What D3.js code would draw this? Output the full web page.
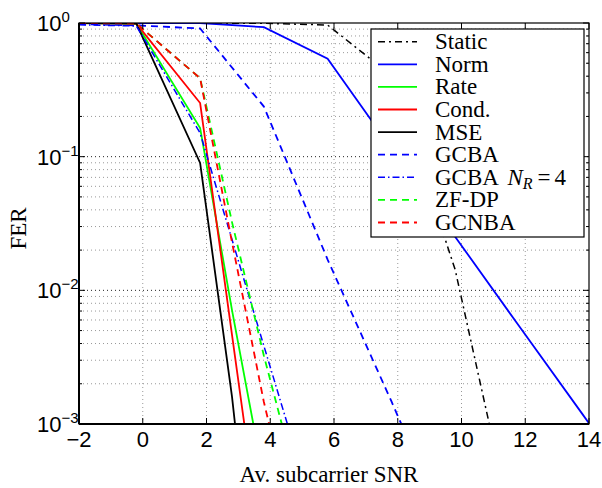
<!DOCTYPE html>
<html>
<head>
<meta charset="utf-8">
<script src="https://d3js.org/d3.v7.min.js"></script>
<style>
  body { margin: 0; background: #fff; }
  svg { display: block; }
</style>
</head>
<body>
<svg width="602" height="488"></svg>
<script>
// SNR points (dB) used by the simulations
const snrCoarse = [-2, -0.2, 1.8, 3.8, 5.8, 7.8, 9.8, 11.8, 13.8, 15.8];
const snrFine = [-2, -0.2, 1.8, 2.8, 3.8, 4.8];

// FER values
const ferStatic = [1, 1, 1, 0.995, 0.966, 0.405, 0.0143, 1.0e-4];
const ferNorm = [1, 1, 1, 0.93, 0.54, 0.115, 0.0252, 5.43e-3, 1.18e-3, 2.55e-4];
const ferRate = [1, 0.99, 0.164, 7.1e-3, 3.8e-4];
const ferCond = [1, 0.99, 0.252, 4.65e-3, 8.7e-5];
const ferMSE = [1, 0.99, 0.0897, 1.6e-3, 1.1e-5];
const ferGCBA = [0.98, 0.96, 0.91, 0.237, 0.017, 1.48e-3, 1.2e-4];
const ferGCBA4 = [0.97, 0.95, 0.15, 0.024, 3.84e-3, 6.2e-4];
const ferZFDP = [1, 0.99, 0.386, 0.0324, 3.24e-3, 4.0e-4];
const ferGCNBA = [1, 0.99, 0.386, 0.0229, 1.46e-3, 1.45e-4];

const xTicks = [-2, 0, 2, 4, 6, 8, 10, 12, 14];
const yTicks = [1e-3, 1e-2, 1e-1, 1];
const yExp = ["\u22123", "\u22122", "\u22121", "0"];

const series = [
  { name: "Static", x: snrCoarse, y: ferStatic, color: "#000", dash: "7,4,2,4", w: 1.5 },
  { name: "Norm", x: snrCoarse, y: ferNorm, color: "#0000ff", dash: null, w: 1.8 },
  { name: "Rate", x: snrFine, y: ferRate, color: "#00ff00", dash: null, w: 1.8 },
  { name: "Cond.", x: snrFine, y: ferCond, color: "#ff0000", dash: null, w: 1.8 },
  { name: "MSE", x: snrFine, y: ferMSE, color: "#000", dash: null, w: 1.8 },
  { name: "GCBA", x: snrCoarse, y: ferGCBA, color: "#0000ff", dash: "7,5", w: 1.8 },
  { name: "GCBA4", x: snrFine, y: ferGCBA4, color: "#0000ff", dash: "7,3,1.5,3", w: 1.5 },
  { name: "ZF-DP", x: snrFine, y: ferZFDP, color: "#00ff00", dash: "7,5", w: 1.8 },
  { name: "GCNBA", x: snrFine, y: ferGCNBA, color: "#ff0000", dash: "7,5", w: 1.8 }
];

const margin = { left: 79, top: 23, right: 13, bottom: 64 };
const width = 602 - margin.left - margin.right;
const height = 488 - margin.top - margin.bottom;

const svg = d3.select("svg");
const g = svg.append("g").attr("transform", `translate(${margin.left},${margin.top})`);

const x = d3.scaleLinear().domain([-2, 14]).range([0, width]);
const y = d3.scaleLog().domain([1e-3, 1]).range([height, 0]);

// minor decade values 2..9
const minor = [];
[1e-3, 1e-2, 1e-1].forEach(d => { for (let k = 2; k <= 9; k++) minor.push(d * k); });

// grid
g.append("g").selectAll("line").data(xTicks.slice(1, -1)).enter().append("line")
  .attr("x1", d => x(d)).attr("x2", d => x(d)).attr("y1", 0).attr("y2", height)
  .attr("stroke", "#999").attr("stroke-width", 1).attr("stroke-dasharray", "1,3");
g.append("g").selectAll("line").data(minor).enter().append("line")
  .attr("x1", 0).attr("x2", width).attr("y1", d => y(d)).attr("y2", d => y(d))
  .attr("stroke", "#999").attr("stroke-width", 1).attr("stroke-dasharray", "1,3");
g.append("g").selectAll("line").data(yTicks.slice(1, -1)).enter().append("line")
  .attr("x1", 0).attr("x2", width).attr("y1", d => y(d)).attr("y2", d => y(d))
  .attr("stroke", "#222").attr("stroke-width", 1).attr("stroke-dasharray", "1,3");

// curves
svg.append("defs").append("clipPath").attr("id", "plotclip")
  .append("rect").attr("width", width).attr("height", height);

const line = d3.line().x(d => x(d[0])).y(d => y(d[1]));
g.append("g").attr("clip-path", "url(#plotclip)")
  .selectAll("path").data(series).enter().append("path")
  .attr("d", s => line(s.y.map((v, i) => [s.x[i], v])))
  .attr("fill", "none")
  .attr("stroke", s => s.color)
  .attr("stroke-width", s => s.w)
  .attr("stroke-dasharray", s => s.dash);

// frame and ticks
g.append("rect").attr("width", width).attr("height", height)
  .attr("fill", "none").attr("stroke", "#000").attr("stroke-width", 1.2);
g.append("line").attr("x1", 0).attr("x2", 0).attr("y1", 0).attr("y2", height)
  .attr("stroke", "#000").attr("stroke-width", 2);
g.append("line").attr("x1", 0).attr("x2", width).attr("y1", height).attr("y2", height)
  .attr("stroke", "#000").attr("stroke-width", 2);

const tk = g.append("g").attr("stroke", "#000").attr("stroke-width", 1);
xTicks.forEach(d => {
  tk.append("line").attr("x1", x(d)).attr("x2", x(d)).attr("y1", height).attr("y2", height - 6);
  tk.append("line").attr("x1", x(d)).attr("x2", x(d)).attr("y1", 0).attr("y2", 6);
});
yTicks.forEach(d => {
  tk.append("line").attr("x1", 0).attr("x2", 6).attr("y1", y(d)).attr("y2", y(d));
  tk.append("line").attr("x1", width).attr("x2", width - 6).attr("y1", y(d)).attr("y2", y(d));
});
minor.forEach(d => {
  tk.append("line").attr("x1", 0).attr("x2", 3).attr("y1", y(d)).attr("y2", y(d));
  tk.append("line").attr("x1", width).attr("x2", width - 3).attr("y1", y(d)).attr("y2", y(d));
});

// tick labels
const sans = "'Liberation Sans', Arial, sans-serif";
const serif = "'Liberation Serif', 'Times New Roman', serif";

g.append("g").selectAll("text").data(xTicks).enter().append("text")
  .attr("x", d => x(d)).attr("y", height + 23)
  .attr("text-anchor", "middle")
  .attr("font-family", sans).attr("font-size", 22)
  .text(d => d < 0 ? "\u2212" + Math.abs(d) : d);

yTicks.forEach((d, i) => {
  const t = svg.append("text")
    .attr("x", 37).attr("y", margin.top + y(d) + 8)
    .attr("font-family", sans).attr("font-size", 22);
  t.append("tspan").text("10");
  t.append("tspan").attr("font-size", 15).attr("dy", -9).text(yExp[i]);
});

// axis titles
svg.append("text")
  .attr("transform", `translate(26,${margin.top + height / 2 + 5}) rotate(-90)`)
  .attr("text-anchor", "middle")
  .attr("font-family", serif).attr("font-size", 23)
  .text("FER");
svg.append("text")
  .attr("x", 329).attr("y", 482)
  .attr("text-anchor", "middle")
  .attr("font-family", serif).attr("font-size", 23)
  .text("Av. subcarrier SNR");

// legend
const lg = svg.append("g").attr("transform", "translate(371,29)");
lg.append("rect").attr("width", 213).attr("height", 208)
  .attr("fill", "#fff").attr("stroke", "#000").attr("stroke-width", 1.2);

const rowH = 22.6;
series.forEach((s, i) => {
  const cy = 12.7 + i * rowH;
  lg.append("line")
    .attr("x1", 7).attr("x2", 46).attr("y1", cy).attr("y2", cy)
    .attr("stroke", s.color).attr("stroke-width", s.w)
    .attr("stroke-dasharray", s.dash);
  const t = lg.append("text")
    .attr("x", 64).attr("y", cy + 7.5)
    .attr("font-family", serif).attr("font-size", 23);
  if (s.name === "GCBA4") {
    t.append("tspan").text("GCBA ");
    t.append("tspan").attr("dx", 4).attr("font-style", "italic").text("N");
    t.append("tspan").attr("font-style", "italic").attr("font-size", 16).attr("dy", 4).text("R");
    t.append("tspan").attr("dy", -4).attr("dx", 5).text("=");
    t.append("tspan").attr("dx", 4).text("4");
  } else {
    t.text(s.name);
  }
});
</script>
</body>
</html>
